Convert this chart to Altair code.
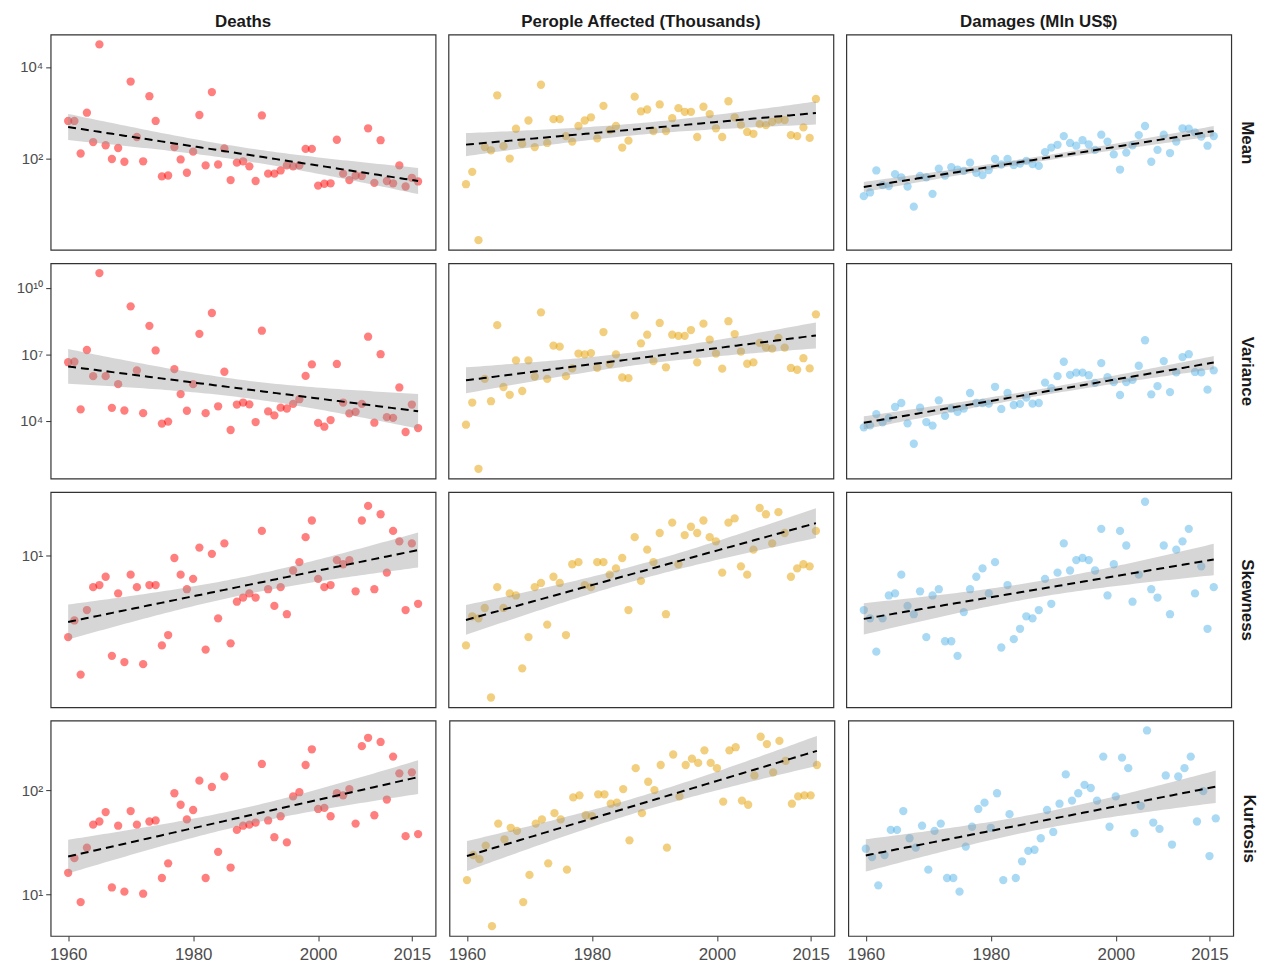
import numpy as np
import pandas as pd
import altair as alt

FONT = "Liberation Sans"

years = list(range(1960, 2017))

# Values, given as powers of ten (10**v is the value)
deaths_mean = [2.82, 2.82, 2.11, 3.00, 2.36, 4.49, 2.29, 1.99, 2.23, 1.93,
               3.68, 2.47, 1.94, 3.36, 2.82, 1.61, 1.63, 2.25, 1.98, 1.69,
               2.15, 2.95, 1.85, 3.45, 1.87, 2.22, 1.53, 1.91, 1.94, 1.83,
               1.51, 2.94, 1.67, 1.67, 1.74, 1.85, 1.83, 1.85, 2.21, 2.21,
               1.41, 1.45, 1.46, 2.41, 1.67, 1.53, 1.63, 1.62, 2.66, 1.47,
               2.40, 1.51, 1.46, 1.85, 1.39, 1.58, 1.50]
people_mean = [1.44, 1.71, 0.22, 2.25, 2.18, 3.38, 2.27, 2.00, 2.65, 2.32,
               2.83, 2.25, 3.61, 2.34, 2.86, 2.86, 2.49, 2.37, 2.71, 2.83,
               2.90, 2.44, 3.15, 2.62, 2.71, 2.24, 2.39, 3.35, 3.03, 3.07,
               2.60, 3.18, 2.60, 2.88, 3.10, 3.02, 3.02, 2.47, 3.13, 2.97,
               2.66, 2.47, 3.25, 2.90, 2.73, 2.58, 2.54, 2.75, 2.73, 2.80,
               2.85, 2.84, 2.51, 2.49, 2.68, 2.45, 3.30]
damages_mean = [1.18, 1.26, 1.74, 1.42, 1.40, 1.66, 1.59, 1.39, 0.95, 1.62,
                1.59, 1.23, 1.78, 1.63, 1.81, 1.76, 1.73, 1.91, 1.69, 1.64,
                1.75, 1.99, 1.87, 1.99, 1.86, 1.89, 1.95, 1.88, 1.84, 2.14,
                2.24, 2.30, 2.49, 2.34, 2.28, 2.40, 2.31, 2.19, 2.52, 2.37,
                2.09, 1.76, 2.13, 2.29, 2.51, 2.71, 1.93, 2.19, 2.52, 2.12,
                2.37, 2.66, 2.65, 2.57, 2.48, 2.28, 2.49]

deaths_var = [6.64, 6.66, 4.51, 7.19, 6.01, 10.66, 6.01, 4.58, 5.65, 4.46,
              9.16, 6.27, 4.34, 8.28, 7.17, 3.87, 3.96, 6.33, 5.20, 4.45,
              5.65, 7.92, 4.34, 8.86, 4.65, 6.21, 3.58, 4.73, 4.82, 4.74,
              3.94, 8.06, 4.42, 4.24, 4.59, 4.55, 4.76, 4.97, 6.02, 6.54,
              3.90, 3.73, 4.03, 6.56, 4.82, 4.33, 4.40, 4.76, 7.79, 3.91,
              7.00, 4.16, 4.13, 5.50, 3.49, 4.73, 3.67]
people_var = [3.82, 4.82, 1.83, 5.89, 4.88, 8.31, 5.52, 5.17, 6.72, 5.34,
              6.72, 5.99, 8.89, 5.89, 7.39, 7.34, 6.01, 6.36, 7.03, 6.99,
              7.05, 6.39, 8.00, 6.56, 6.99, 5.95, 5.92, 8.75, 7.49, 7.88,
              6.69, 8.41, 6.41, 7.88, 7.83, 7.83, 8.09, 6.63, 8.38, 7.66,
              7.03, 6.35, 8.49, 7.91, 7.12, 6.57, 6.63, 7.51, 7.31, 7.25,
              7.74, 7.30, 6.38, 6.30, 6.82, 6.36, 8.80]
damages_var = [3.70, 3.79, 4.30, 3.93, 4.13, 4.62, 4.80, 3.88, 2.96, 4.59,
               3.94, 3.78, 4.92, 4.22, 4.55, 4.40, 4.55, 5.25, 4.80, 4.80,
               4.77, 5.53, 4.53, 5.25, 4.71, 4.76, 5.04, 4.77, 4.80, 5.72,
               5.47, 6.01, 6.66, 6.07, 6.17, 6.17, 6.05, 5.71, 6.60, 5.96,
               5.74, 5.16, 5.74, 5.84, 6.48, 7.63, 5.19, 5.56, 6.69, 5.29,
               6.18, 6.87, 7.00, 6.20, 6.18, 5.40, 6.27]

deaths_skew = [0.61, 0.69, 0.43, 0.74, 0.85, 0.86, 0.90, 0.52, 0.82, 0.49,
               0.91, 0.85, 0.48, 0.86, 0.86, 0.57, 0.62, 0.99, 0.91, 0.84,
               0.89, 1.04, 0.55, 1.01, 0.70, 1.06, 0.58, 0.78, 0.80, 0.82,
               0.80, 1.12, 0.84, 0.76, 0.85, 0.72, 0.93, 0.97, 1.09, 1.17,
               0.89, 0.85, 0.86, 0.98, 0.96, 0.98, 0.83, 1.17, 1.24, 0.84,
               1.20, 0.92, 1.12, 1.07, 0.74, 1.06, 0.77]
people_skew = [0.57, 0.71, 0.70, 0.75, 0.32, 0.85, 0.75, 0.82, 0.81, 0.46,
               0.61, 0.85, 0.87, 0.67, 0.90, 0.87, 0.62, 0.96, 0.97, 0.86,
               0.85, 0.97, 0.97, 0.91, 0.94, 0.99, 0.74, 1.09, 0.88, 1.03,
               0.97, 1.11, 0.72, 1.16, 0.96, 1.10, 1.14, 1.11, 1.17, 1.09,
               1.07, 0.92, 1.16, 1.18, 0.95, 0.91, 1.03, 1.23, 1.20, 1.06,
               1.21, 1.11, 0.90, 0.94, 0.96, 0.95, 1.12]
damages_skew = [0.74, 0.70, 0.54, 0.70, 0.81, 0.82, 0.91, 0.76, 0.72, 0.83,
                0.61, 0.81, 0.84, 0.59, 0.59, 0.52, 0.73, 0.84, 0.90, 0.94,
                0.82, 0.97, 0.56, 0.86, 0.60, 0.65, 0.71, 0.70, 0.74, 0.89,
                0.77, 0.92, 1.06, 0.93, 0.98, 0.99, 0.98, 0.93, 1.13, 0.81,
                0.96, 1.12, 1.05, 0.78, 0.91, 1.26, 0.84, 0.80, 1.05, 0.72,
                1.03, 1.07, 1.13, 0.82, 0.95, 0.65, 0.85]

deaths_kurt = [1.21, 1.35, 0.93, 1.45, 1.67, 1.70, 1.79, 1.07, 1.66, 1.03,
               1.80, 1.67, 1.01, 1.70, 1.71, 1.16, 1.30, 1.97, 1.86, 1.72,
               1.81, 2.09, 1.16, 2.03, 1.41, 2.13, 1.26, 1.62, 1.66, 1.67,
               1.69, 2.25, 1.71, 1.55, 1.75, 1.50, 1.94, 1.98, 2.24, 2.39,
               1.82, 1.83, 1.75, 1.97, 1.95, 2.01, 1.68, 2.42, 2.50, 1.76,
               2.46, 1.91, 2.32, 2.16, 1.56, 2.17, 1.58]
people_kurt = [1.14, 1.38, 1.34, 1.47, 0.70, 1.68, 1.53, 1.64, 1.61, 0.93,
               1.19, 1.68, 1.72, 1.30, 1.78, 1.72, 1.24, 1.93, 1.95, 1.76,
               1.75, 1.96, 1.96, 1.87, 1.88, 2.01, 1.52, 2.21, 1.78, 2.08,
               2.00, 2.24, 1.45, 2.34, 1.94, 2.24, 2.30, 2.26, 2.38, 2.26,
               2.21, 1.89, 2.38, 2.41, 1.90, 1.86, 2.14, 2.51, 2.44, 2.17,
               2.47, 2.28, 1.87, 1.94, 1.95, 1.95, 2.24]
damages_kurt = [1.44, 1.36, 1.09, 1.38, 1.62, 1.62, 1.80, 1.54, 1.45, 1.66,
                1.24, 1.61, 1.68, 1.16, 1.16, 1.03, 1.46, 1.65, 1.82, 1.88,
                1.64, 1.97, 1.14, 1.77, 1.16, 1.32, 1.42, 1.43, 1.54, 1.81,
                1.60, 1.87, 2.15, 1.90, 1.97, 2.05, 2.02, 1.90, 2.32, 1.65,
                1.94, 2.31, 2.21, 1.59, 1.85, 2.57, 1.69, 1.63, 2.14, 1.48,
                2.13, 2.21, 2.32, 1.70, 1.99, 1.37, 1.73]

col_titles = ["Deaths", "Perople Affected (Thousands)", "Damages (Mln US$)"]
row_titles = ["Mean", "Variance", "Skewness", "Kurtosis"]
point_colors = ["#FF0000", "#E69F00", "#56B4E9"]

DATA = [
    [deaths_mean, people_mean, damages_mean],
    [deaths_var, people_var, damages_var],
    [deaths_skew, people_skew, damages_skew],
    [deaths_kurt, people_kurt, damages_kurt],
]

y_tick_values = [[100, 10000], [10**4, 10**7, 10**10], [10], [10, 100]]
y_tick_labels = [["10²", "10⁴"], ["10⁴", "10⁷", "10¹⁰"], ["10¹"], ["10¹", "10²"]]
x_tick_values = [1960, 1980, 2000, 2015]

T975 = 2.004  # Student t quantile, 55 degrees of freedom


def lm_fit(ylog):
    x = np.array(years, dtype=float)
    y = np.array(ylog, dtype=float)
    n = len(x)
    xm = x.mean()
    sxx = ((x - xm) ** 2).sum()
    b = ((x - xm) * (y - y.mean())).sum() / sxx
    a = y.mean() - b * xm
    s = np.sqrt(((y - (a + b * x)) ** 2).sum() / (n - 2))
    xg = np.linspace(x.min(), x.max(), 80)
    yh = a + b * xg
    se = s * np.sqrt(1.0 / n + (xg - xm) ** 2 / sxx)
    return xg, yh, yh - T975 * se, yh + T975 * se


fits = [[lm_fit(DATA[r][c]) for c in range(3)] for r in range(4)]

row_domains = []
for r in range(4):
    vals = []
    for c in range(3):
        vals += list(DATA[r][c])
        vals += list(fits[r][c][2]) + list(fits[r][c][3])
    lo, hi = min(vals), max(vals)
    pad = 0.05 * (hi - lo)
    row_domains.append([10 ** (lo - pad), 10 ** (hi + pad)])

xr = years[-1] - years[0]
x_domain = [years[0] - 0.05 * xr, years[-1] + 0.05 * xr]


def label_expr(values, labels):
    expr = "''"
    for v, lab in zip(reversed(values), reversed(labels)):
        expr = f"datum.value == {v} ? '{lab}' : ({expr})"
    return expr


def panel(r, c):
    ylog = np.array(DATA[r][c])
    pts = pd.DataFrame({"year": years, "value": 10 ** ylog})
    xg, yh, lo, hi = fits[r][c]
    fitdf = pd.DataFrame({"year": xg, "fit": 10 ** yh, "lo": 10 ** lo, "hi": 10 ** hi})

    yscale = alt.Scale(type="log", domain=row_domains[r], nice=False)
    xscale = alt.Scale(domain=x_domain, nice=False, zero=False)

    if c == 0:
        yaxis = alt.Axis(values=y_tick_values[r],
                         labelExpr=label_expr(y_tick_values[r], y_tick_labels[r]),
                         title=None, labelFontSize=15, grid=False)
    elif c == 2:
        yaxis = alt.Axis(orient="right", values=[], labels=False, ticks=False, grid=False,
                         title=row_titles[r], titleAngle=90, titleFontSize=17,
                         titleFontWeight="bold", titleColor="#1a1a1a", titleFont=FONT,
                         titlePadding=6, minExtent=0, maxExtent=0)
    else:
        yaxis = None

    if r == 3:
        xaxis = alt.Axis(values=x_tick_values, format="d", title=None, labelFontSize=17,
                         labelPadding=6, grid=False)
    else:
        xaxis = None

    xenc = alt.X("year:Q", scale=xscale, axis=xaxis)

    points = alt.Chart(pts).mark_circle(size=70, opacity=0.5, color=point_colors[c]).encode(
        x=xenc, y=alt.Y("value:Q", scale=yscale, axis=yaxis))
    band = alt.Chart(fitdf).mark_area(color="#999999", opacity=0.4).encode(
        x=xenc, y=alt.Y("lo:Q", scale=yscale, axis=yaxis), y2="hi:Q")
    line = alt.Chart(fitdf).mark_line(color="black", strokeDash=[8, 5], strokeWidth=2).encode(
        x=xenc, y=alt.Y("fit:Q", scale=yscale, axis=yaxis))

    ch = alt.layer(points, band, line).properties(width=388, height=217)
    if r == 0:
        ch = ch.properties(title=alt.TitleParams(col_titles[c], fontSize=17, fontWeight="bold",
                                                 color="#1a1a1a", font=FONT, anchor="middle",
                                                 offset=4))
    return ch


rows = [alt.hconcat(*[panel(r, c) for c in range(3)], spacing=11) for r in range(4)]

chart = alt.vconcat(*rows, spacing=11.5).properties(
    padding={"left": 5, "top": 0, "right": 5, "bottom": 5}
).configure_view(
    stroke="#333333", strokeWidth=1.2
).configure_axis(
    grid=False, domain=False, tickColor="#333333", tickWidth=1, tickSize=5,
    labelColor="#4d4d4d", labelFont=FONT, labelPadding=3
).configure_axisLeft(
    minExtent=37, maxExtent=37
)

chart.save("out.html", embed_options={"renderer": "svg", "actions": False})
